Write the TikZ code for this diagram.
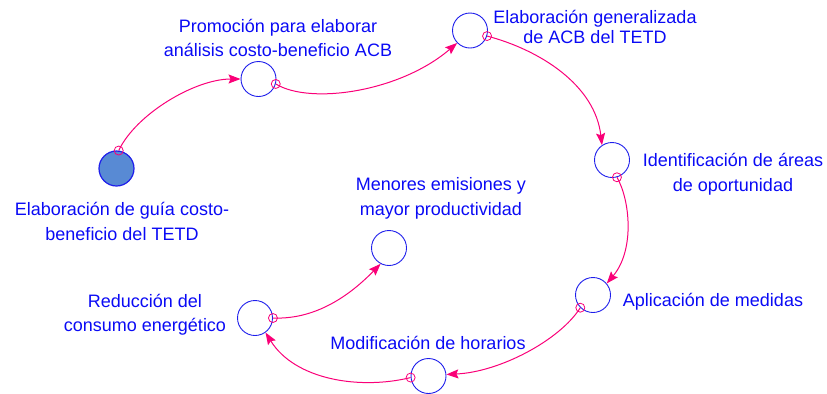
\documentclass[tikz,border=0pt]{standalone}
\usepackage{fontspec}
\setmainfont{Liberation Sans}
\usetikzlibrary{arrows.meta}
\definecolor{txtblue}{RGB}{10,10,245}
\definecolor{cblue}{RGB}{30,30,235}
\definecolor{cfill}{RGB}{88,138,212}
\definecolor{lpink}{RGB}{250,0,120}
\tikzset{
  lvl/.style={circle,draw=cblue,line width=0.9bp,minimum size=35bp,inner sep=0pt},
  lbl/.style={text=txtblue,align=center,inner sep=0pt,font=\fontsize{18bp}{24.5bp}\selectfont},
  flow/.style={draw=lpink,line width=1bp,-{Stealth[length=12bp,width=9bp,inset=2bp]}},
  tail/.style={draw=lpink,line width=0.8bp}
}
\begin{document}
\begin{tikzpicture}[x=1bp,y=-1bp]
\useasboundingbox (0,0) rectangle (827,393);
% circles
\node[lvl,fill=cfill,line width=1.2bp] (g) at (116.5,168.5) {};
\node[lvl] (p) at (258.5,79) {};
\node[lvl] (e) at (470,30.5) {};
\node[lvl] (i) at (612,160) {};
\node[lvl] (a) at (593,295) {};
\node[lvl] (m) at (428.5,376) {};
\node[lvl] (r) at (255,318) {};
\node[lvl] (n) at (389,248) {};
% labels
\node[lbl] (tg) at (122,221.4) {Elaboración de guía costo-\\beneficio del TETD};
\node[lbl] (tp) at (278,37.9) {Promoción para elaborar\\análisis costo-beneficio ACB};
\node[lbl,font=\fontsize{18bp}{19.5bp}\selectfont] (te) at (595,27) {Elaboración generalizada\\de ACB del TETD};
\node[lbl] (ti) at (733,174.2) {Identificación de áreas\\de oportunidad};
\node[lbl,anchor=base] (ta) at (713,306) {Aplicación de medidas};
\node[lbl,anchor=base] (tm) at (428,349.5) {Modificación de horarios};
\node[lbl] (tr) at (145,314.5) {Reducción del\\consumo energético};
\node[lbl] (tn) at (441,198.5) {Menores emisiones y\\mayor productividad};
% connectors
\draw[flow] (g.83) .. controls (136,114) and (195,79) .. (p.180);
\draw[flow] (p.-16) .. controls (310,105) and (400,92) .. (e.224);
\draw[flow] (e.-18) .. controls (540,50) and (595,85) .. (i.124);
\draw[flow] (i.-74) .. controls (630,200) and (635,250) .. (a.40);
\draw[flow] (a.-135) .. controls (560,340) and (500,372) .. (m.5);
\draw[flow] (m.185) .. controls (360,390) and (295,380) .. (r.-54);
\draw[flow] (r.0) .. controls (320,320) and (355,290) .. (n.242);
% tails
\draw[tail] (g.83) circle (4.5);
\draw[tail] (p.-16) circle (4.5);
\draw[tail] (e.-18) circle (4.5);
\draw[tail] (i.-74) circle (4.5);
\draw[tail] (a.-135) circle (4.5);
\draw[tail] (m.185) circle (4.5);
\draw[tail] (r.0) circle (4.5);
\end{tikzpicture}
\end{document}
